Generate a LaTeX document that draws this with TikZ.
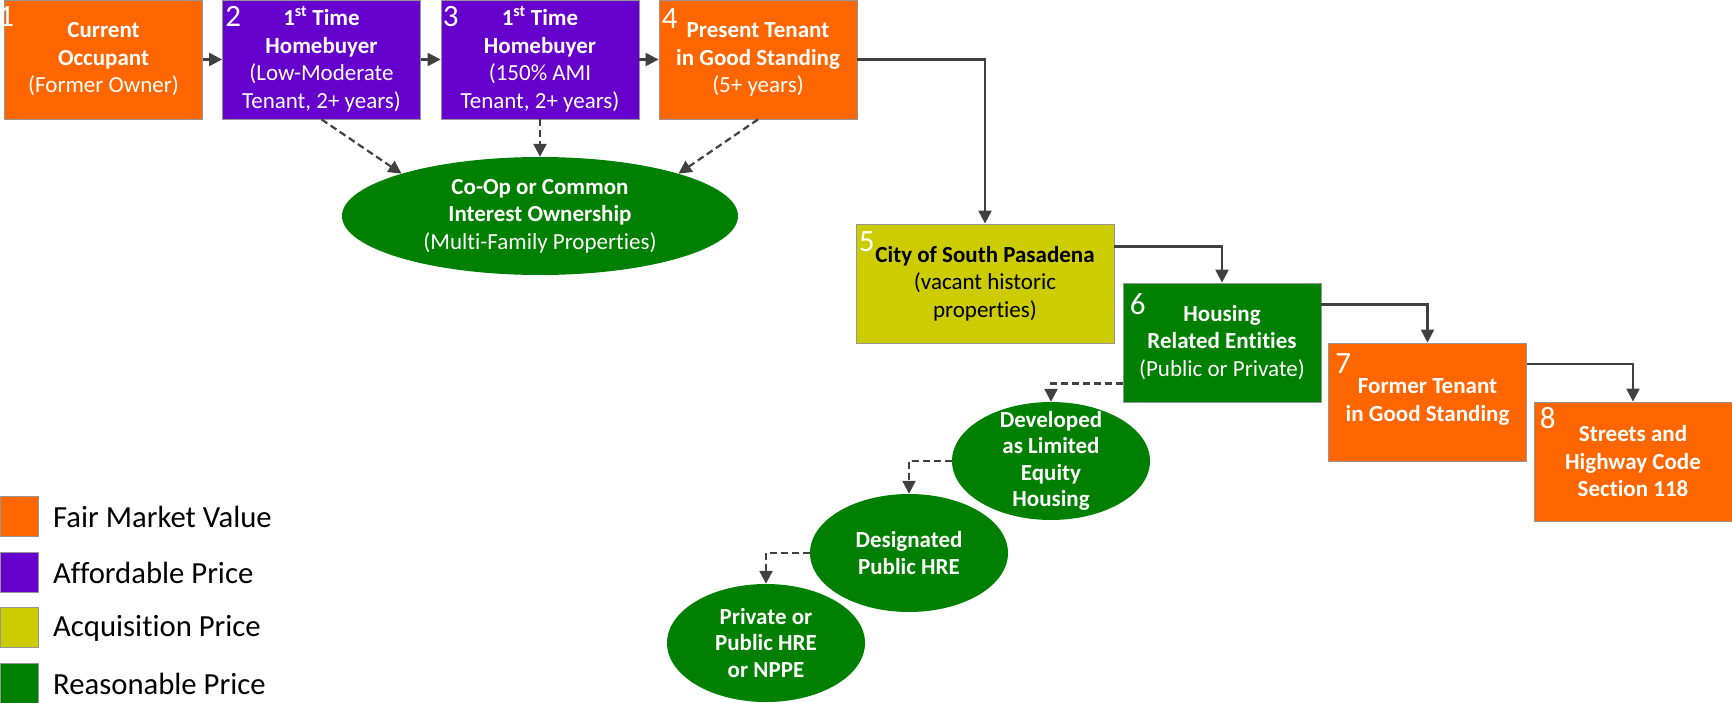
\documentclass[tikz,border=0pt]{standalone}
\usepackage{fontspec}
\setmainfont{Carlito}[Ligatures=NoCommon]
\usetikzlibrary{arrows.meta,shapes.geometric,calc}
\definecolor{fmv}{RGB}{255,102,0}
\definecolor{afp}{RGB}{102,0,204}
\definecolor{acq}{RGB}{204,204,0}
\definecolor{rsp}{RGB}{0,128,0}
\definecolor{ln}{RGB}{64,64,64}
\definecolor{bd}{RGB}{150,150,150}
\begin{document}
\begin{tikzpicture}[x=1pt,y=-1pt,
 box/.style={draw=bd, line width=0.8pt, minimum width=198pt, minimum height=119pt, inner sep=0pt, text=white, align=center, font=\fontsize{23}{27.5}\selectfont},
 oval/.style={ellipse, fill=rsp, draw=none, minimum width=198pt, minimum height=118pt, inner sep=0pt},
 ovaltext/.style={text=white, align=center, font=\fontsize{23}{26.5}\selectfont\bfseries, inner sep=0pt},
 num/.style={anchor=base west, inner sep=0pt, text=white, font=\fontsize{31}{31}\selectfont},
 arr/.style={draw=ln, line width=2.2pt, -{Triangle[length=13pt,width=13pt]}},
 darr/.style={arr, dash pattern=on 7pt off 4pt},
 legsq/.style={draw=bd, line width=0.8pt, minimum width=38pt, minimum height=40pt, inner sep=0pt},
 legtxt/.style={anchor=west, inner sep=0pt, font=\fontsize{30.7}{31}\selectfont}
]
\useasboundingbox (0,0) rectangle (1732,703);

% boxes
\node[box, fill=fmv] (b1) at (103.5,59.5) {\textbf{Current}\\\textbf{Occupant}\\(Former Owner)};
\node[box, fill=afp] (b2) at (321.5,59.5) {\textbf{1\textsuperscript{st} Time}\\\textbf{Homebuyer}\\(Low-Moderate\\Tenant, 2+ years)};
\node[box, fill=afp] (b3) at (540,59.5) {\textbf{1\textsuperscript{st} Time}\\\textbf{Homebuyer}\\(150\% AMI\\Tenant, 2+ years)};
\node[box, fill=fmv] (b4) at (758,59.5) {\textbf{Present Tenant}\\\textbf{in Good Standing}\\(5+ years)};
\node[box, fill=acq, text=black, minimum width=258pt] (b5) at (985,283.5) {\textbf{City of South Pasadena}\\(vacant historic\\properties)};
\node[box, fill=rsp] (b6) at (1222,342.5) {\textbf{Housing}\\\textbf{Related Entities}\\(Public or Private)};
\node[box, fill=fmv, minimum height=118pt] (b7) at (1427.5,402) {\textbf{Former Tenant}\\\textbf{in Good Standing}};
\node[box, fill=fmv] (b8) at (1633,461.5) {\textbf{Streets and}\\\textbf{Highway Code}\\\textbf{Section 118}};

% numbers
\node[num] (n1) at ($(b1.north west)+(-6,27)$) {1};
\node[num] (n2) at ($(b2.north west)+(3,27)$) {2};
\node[num] (n3) at ($(b3.north west)+(2,27)$) {3};
\node[num] (n4) at ($(b4.north west)+(3,29)$) {4};
\node[num] (n5) at ($(b5.north west)+(3,28)$) {5};
\node[num] (n6) at ($(b6.north west)+(7,32)$) {6};
\node[num] (n7) at ($(b7.north west)+(7,31)$) {7};
\node[num] (n8) at ($(b8.north west)+(6,27)$) {8};

% ellipses
\node[oval, minimum width=396pt] (coop) at (540,216) {};
\node[ovaltext, font=\fontsize{23}{27.5}\selectfont] (coopt) at (coop.center) {\textbf{Co-Op or Common}\\\textbf{Interest Ownership}\\\mdseries(Multi-Family Properties)};
\node[oval] (e1) at (1051,461) {};
\node[ovaltext] (e1t) at (e1.center) {Developed\\as Limited\\Equity\\Housing};
\node[oval] (e2) at (909,553) {};
\node[ovaltext] (e2t) at (e2.center) {Designated\\Public HRE};
\node[oval] (e3) at (766,643) {};
\node[ovaltext] (e3t) at (e3.center) {Private or\\Public HRE\\or NPPE};

% solid connectors
\draw[arr] (b1.east) -- (b2.west);
\draw[arr] (b2.east) -- (b3.west);
\draw[arr] (b3.east) -- (b4.west);
\draw[arr] (b4.east) -| (b5.north);
\draw[arr] ($(b5.north east)+(0,23)$) -| (b6.north);
\draw[arr] ($(b6.north east)+(0,22)$) -| (b7.north);
\draw[arr] ($(b7.north east)+(0,21)$) -| (b8.north);

% dashed connectors
\draw[darr] (b2.south) -- (coop.163);
\draw[darr] (b3.south) -- (coop.north);
\draw[darr] (b4.south) -- (coop.17);
\draw[darr] ($(b6.south west)+(0,-19)$) -| (e1.north);
\draw[darr] (e1.west) -| (e2.north);
\draw[darr] (e2.west) -| (e3.north);

% legend
\node[legsq, fill=fmv] (l1) at (19,516) {};
\node[legsq, fill=afp] (l2) at (19,572.5) {};
\node[legsq, fill=acq] (l3) at (19,627.5) {};
\node[legsq, fill=rsp] (l4) at (19,683.5) {};
\node[legtxt] (t1) at (53,517) {Fair Market Value};
\node[legtxt] (t2) at (53,573) {Affordable Price};
\node[legtxt] (t3) at (53,628) {Acquisition Price};
\node[legtxt] (t4) at (53,684) {Reasonable Price};
\end{tikzpicture}
\end{document}
